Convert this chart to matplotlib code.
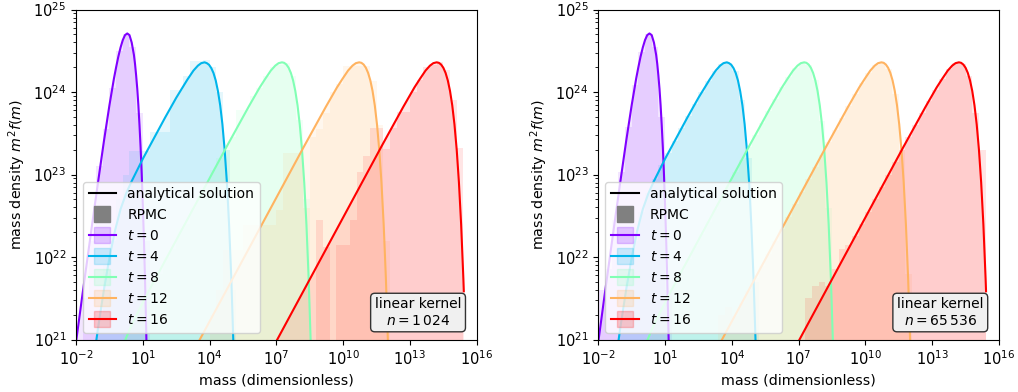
import matplotlib
matplotlib.use("Agg")
import matplotlib.pyplot as plt
import numpy as np
from matplotlib.lines import Line2D
from matplotlib.ticker import NullLocator

times = [0, 4, 8, 12, 16]
colors = plt.cm.rainbow(np.linspace(0, 1, len(times)))

# analytical solution (log10 mass, log10 of m^2 f(m))
sol_logm_t0 = [-2.0, -1.75, -1.5, -1.25, -1.0, -0.75, -0.5, -0.3, -0.2, -0.1, 0.0, 0.1, 0.2, 0.3, 0.4,
               0.5, 0.6, 0.65, 0.7, 0.75, 0.8, 0.85, 0.9, 0.95, 1.0, 1.05, 1.1, 1.15, 1.2]
sol_logy_t0 = [20.97, 21.47, 21.96, 22.45, 22.93, 23.40, 23.84, 24.16, 24.30, 24.43, 24.54, 24.63, 24.69, 24.71, 24.69,
               24.60, 24.45, 24.34, 24.20, 24.04, 23.84, 23.60, 23.33, 23.01, 22.63, 22.21, 21.71, 21.14, 20.49]

sol_logm_t4 = [-1.5, -1.1, -1.0, -0.75, -0.5, -0.25, 0.0, 0.25, 0.5, 1.0, 1.5, 2.0, 2.5, 3.0, 3.275, 3.475,
               3.625, 3.775, 3.875, 3.975, 4.075, 4.175, 4.275, 4.375, 4.475, 4.575, 4.675, 4.775, 4.875,
               4.975, 5.075, 5.125]
sol_logy_t4 = [20.17, 20.97, 21.16, 21.60, 21.99, 22.32, 22.58, 22.77, 22.92, 23.19, 23.44, 23.69, 23.93, 24.15,
               24.26, 24.32, 24.35, 24.36, 24.35, 24.33, 24.29, 24.23, 24.14, 24.01, 23.84, 23.61, 23.30, 22.91,
               22.39, 21.74, 20.90, 20.39]

sol_logm_t8 = [0.0, 0.25, 0.5, 1.25, 2.25, 3.25, 4.25, 4.75, 5.25, 5.75, 6.25, 6.5, 6.75, 6.95, 7.1, 7.25,
               7.35, 7.45, 7.55, 7.65, 7.75, 7.85, 7.95, 8.05, 8.15, 8.25, 8.35, 8.45, 8.55, 8.6]
sol_logy_t8 = [20.84, 21.02, 21.18, 21.58, 22.08, 22.58, 23.08, 23.33, 23.575, 23.82, 24.055, 24.16, 24.26,
               24.32, 24.35, 24.36, 24.354, 24.333, 24.294, 24.232, 24.141, 24.013, 23.839, 23.607, 23.303,
               22.906, 22.394, 21.736, 20.895, 20.39]

sol_logm_t12 = [3.22, 3.72, 4.72, 5.72, 6.72, 7.72, 8.22, 8.72, 9.22, 9.72, 9.97, 10.22, 10.42, 10.57, 10.72,
                10.82, 10.92, 11.02, 11.12, 11.22, 11.32, 11.42, 11.52, 11.62, 11.72, 11.82, 11.92, 12.02, 12.07]
sol_logy_t12 = [20.83, 21.08, 21.58, 22.08, 22.58, 23.08, 23.33, 23.575, 23.82, 24.055, 24.16, 24.26, 24.32,
                24.35, 24.36, 24.354, 24.333, 24.294, 24.232, 24.141, 24.013, 23.839, 23.607, 23.303, 22.906,
                22.394, 21.736, 20.895, 20.39]

sol_logm_t16 = [6.7, 7.2, 8.2, 9.2, 10.2, 11.2, 11.7, 12.2, 12.7, 13.2, 13.45, 13.7, 13.9, 14.05, 14.2, 14.3,
                14.4, 14.5, 14.6, 14.7, 14.8, 14.9, 15.0, 15.1, 15.2, 15.3, 15.4, 15.42]
sol_logy_t16 = [20.83, 21.08, 21.58, 22.08, 22.58, 23.08, 23.33, 23.575, 23.82, 24.055, 24.16, 24.26, 24.32,
                24.35, 24.36, 24.354, 24.333, 24.294, 24.232, 24.141, 24.013, 23.839, 23.607, 23.303, 22.906,
                22.394, 21.736, 21.584]

sol_logm = [sol_logm_t0, sol_logm_t4, sol_logm_t8, sol_logm_t12, sol_logm_t16]
sol_logy = [sol_logy_t0, sol_logy_t4, sol_logy_t8, sol_logy_t12, sol_logy_t16]

# RPMC histograms: log-spaced bins, 0.3 dex wide from 1e-2 to 1e16
bin_log_edges = np.linspace(-2, 16, 61)

# n = 1024: first bin index and log10 heights (None = empty bin)
rpmc1k_start = [1, 3, 7, 18, 36]
rpmc1k_t0 = [21.5, 22.2, 23.1, 23.55, 24.05, 24.5, 24.7, 24.55, 23.75, 22.2]
rpmc1k_t4 = [21.3, 21.9, 22.2, 22.7, 23.0, 23.28, 23.28, 23.28, 23.52, 23.52, 23.52, 24.02, 24.02, 24.2,
             24.37, 24.37, 24.39, 24.3, 24.0, 23.3, 21.6]
rpmc1k_t8 = [21.1, 21.2, 21.5, 21.45, 21.7, 21.8, 22.0, 22.1, 22.35, 22.4, 22.6, 22.7, 22.9, 23.05, 23.2,
             23.3, 23.45, 23.78, 23.78, 23.95, 24.05, 24.2, 24.3, 24.33, 24.35, 24.19, 23.66, 22.7]
rpmc1k_t12 = [21.0, None, 21.3, 21.6, 22.09, 22.09, 22.09, 22.39, 22.39, 22.39, 22.39, 22.39, 22.57, 23.26,
              23.26, 23.26, 22.6, 23.45, 23.55, 23.75, 24.0, 24.1, 24.31, 24.31, 24.31, 24.31, 24.13, 23.6, 22.2]
rpmc1k_t16 = [22.45, 22.12, None, 22.14, 22.14, 22.45, 23.03, 23.22, 23.56, 23.56, 23.31, 23.56, 23.76,
              23.76, 24.0, 24.15, 24.3, 24.33, 24.36, 24.27, 23.9, 23.32]
rpmc1k = [rpmc1k_t0, rpmc1k_t4, rpmc1k_t8, rpmc1k_t12, rpmc1k_t16]

# n = 65536
rpmc64k_start = [0, 3, 6, 17, 31]
rpmc64k_t0 = [21.6, 21.86, 22.45, 23.03, 23.58, 24.08, 24.49, 24.7, 24.54, 23.7, 21.6]
rpmc64k_t4 = [21.25, 21.76, 22.19, 22.54, 22.77, 22.95, 23.11, 23.26, 23.41, 23.56, 23.71, 23.86, 24.0,
              24.13, 24.25, 24.335, 24.357, 24.25, 23.9, 23.2, 21.7]
rpmc64k_t8 = [20.85, 21.02, 21.2, 21.38, 21.53, 21.68, 21.83, 21.98, 22.13, 22.28, 22.43, 22.58, 22.73,
              22.88, 23.03, 23.18, 23.33, 23.48, 23.62, 23.77, 23.92, 24.055, 24.18, 24.29, 24.355, 24.333,
              24.15, 23.65, 22.6, 20.8]
rpmc64k_t12 = [20.85, 21.3, 21.4, 21.29, 21.44, 21.59, 21.74, 21.89, 22.04, 22.19, 22.34, 22.49, 22.64,
               22.79, 22.94, 23.09, 23.24, 23.39, 23.54, 23.69, 23.835, 23.98, 24.11, 24.23, 24.325, 24.36,
               24.28, 23.97, 23.3, 21.8]
rpmc64k_t16 = [21.5, 21.65, 21.7, 21.65, 21.85, 22.1, 22.15, 22.25, 22.4, 22.55, 22.7, 22.85, 23.0, 23.15,
               23.3, 23.45, 23.6, 23.75, 23.89, 24.03, 24.16, 24.275, 24.348, 24.345, 24.19, 23.75, 23.3]
rpmc64k = [rpmc64k_t0, rpmc64k_t4, rpmc64k_t8, rpmc64k_t12, rpmc64k_t16]

panels = [(rpmc1k_start, rpmc1k, r"$n = 1\,024$"),
          (rpmc64k_start, rpmc64k, r"$n = 65\,536$")]

fig = plt.figure(figsize=(10.18, 3.92), dpi=100)
ax_lefts = [0.0747, 0.5877]

for (starts, hists, nlabel), left in zip(panels, ax_lefts):
    ax = fig.add_axes([left, 0.1339, 0.3936, 0.8418])
    ax.set_xscale('log')
    ax.set_yscale('log')

    for i, c in enumerate(colors):
        # histogram of the particles
        vals = np.array([10.0 ** v if v is not None else 1e15 for v in hists[i]])
        k0 = starts[i]
        edges = 10.0 ** bin_log_edges[k0:k0 + len(vals) + 1]
        ax.stairs(vals, edges, baseline=1e15, fill=True, color=c, alpha=0.1, lw=0, zorder=1)

        # analytical curve with shading underneath
        m = 10.0 ** np.array(sol_logm[i])
        y = 10.0 ** np.array(sol_logy[i])
        ax.fill_between(m, y, 1e15, color=c, alpha=0.1, lw=0, zorder=1)
        ax.plot(m, y, color=c, lw=1.5, zorder=2)

    ax.set_xlim(1e-2, 1e16)
    ax.set_ylim(1e21, 1e25)
    ax.set_xticks(10.0 ** np.arange(-2, 17, 3))
    ax.xaxis.set_minor_locator(NullLocator())
    ax.tick_params(labelsize=10.5)
    ax.set_xlabel('mass (dimensionless)', fontsize=10.3)
    ax.set_ylabel('mass density $m^2 f(m)$', fontsize=10.3)

    handles = [Line2D([], [], color='k'),
               Line2D([], [], ls='', marker='s', ms=11, color='gray')]
    labels = ['analytical solution', 'RPMC']
    for t, c in zip(times, colors):
        handles.append((Line2D([], [], ls='', marker='s', ms=11, color=c, alpha=0.2),
                        Line2D([], [], color=c)))
        labels.append(f'$t = {t}$')
    ax.legend(handles, labels, loc='lower left')

    ax.text(0.9615, 0.036, 'linear kernel\n' + nlabel, transform=ax.transAxes,
            ha='right', va='bottom', multialignment='center',
            bbox=dict(boxstyle='round', facecolor='#f0f0f0', edgecolor='#333333'))

fig.savefig('out.png', dpi=100)
